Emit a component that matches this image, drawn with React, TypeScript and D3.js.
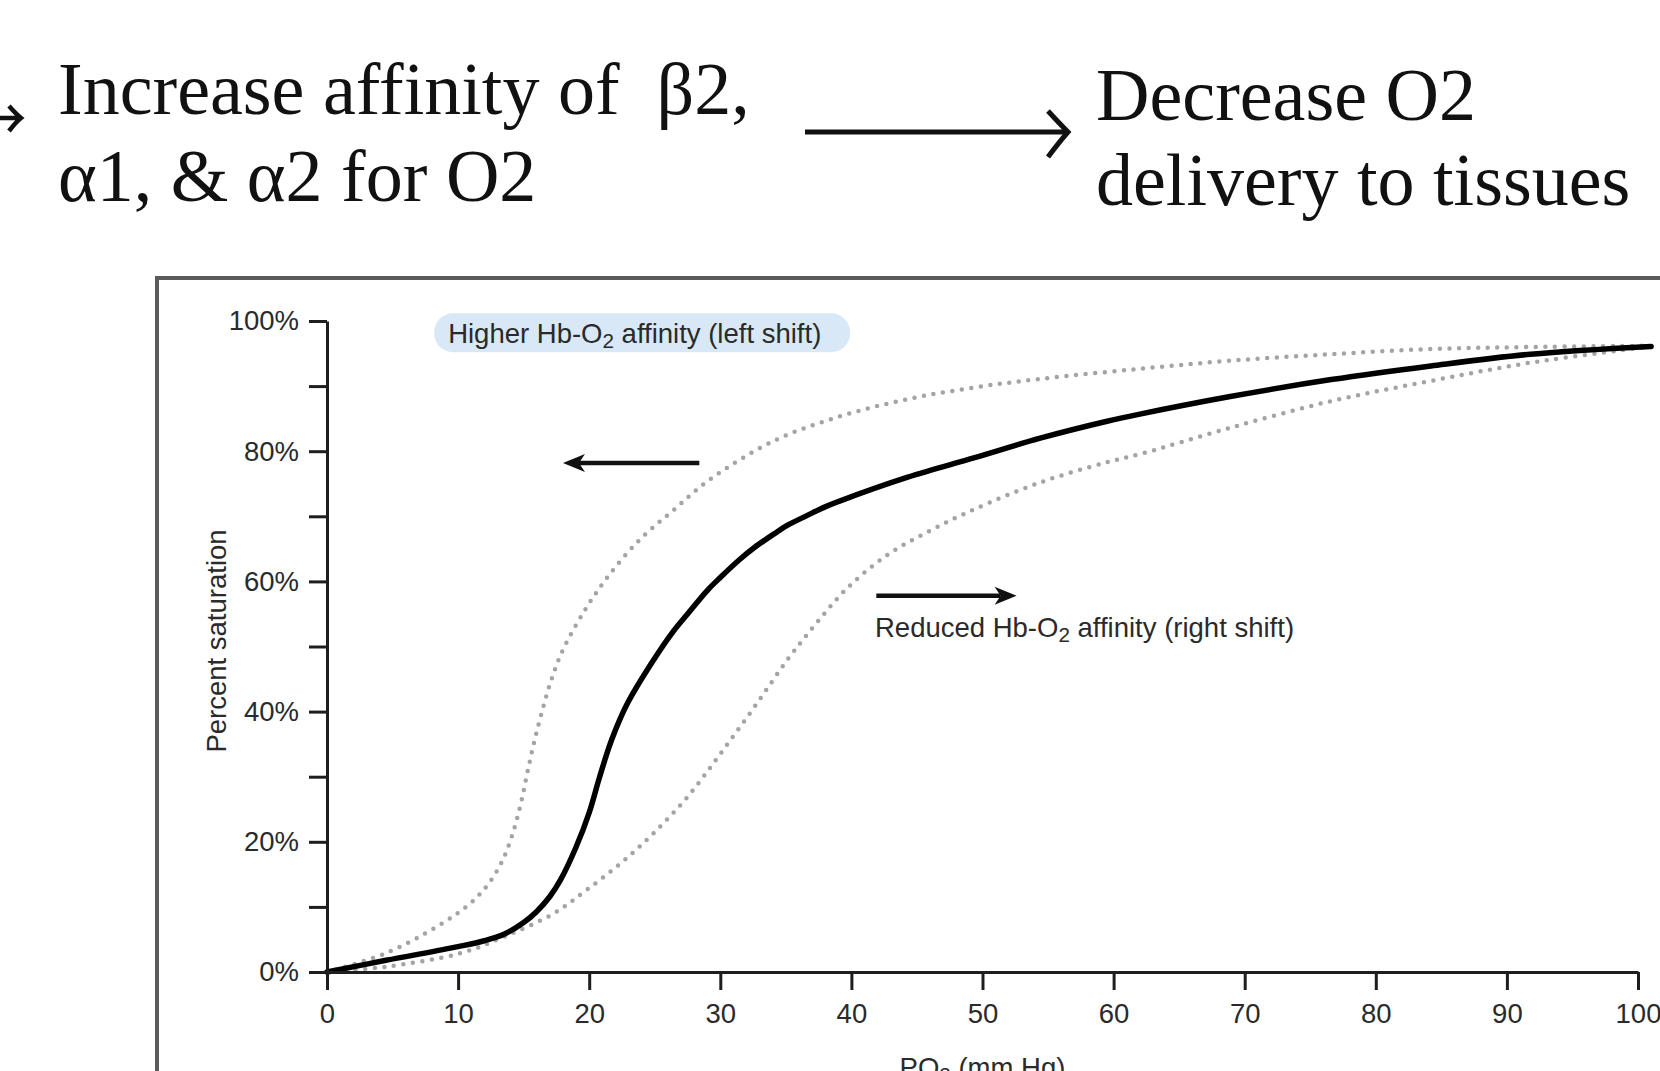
import React, { useEffect, useRef } from 'react';
import * as d3 from 'd3';

const W = 1660;
const H = 1071;

// PO2 (mm Hg) -> percent saturation
const normalCurve: [number, number][] = [
  [0, 0], [4.5, 1.8], [10, 3.9], [12, 4.8], [13.5, 5.8], [15, 7.6], [16, 9.3], [17, 11.6],
  [17.8, 14.1], [19, 19.2], [20, 24.5], [20.8, 30], [21.7, 35.6], [22.9, 41.2], [24.9, 47.9],
  [26.4, 52.3], [27.5, 55], [29, 58.6], [30, 60.6], [31.5, 63.4], [32.6, 65.2], [34.1, 67.3],
  [35.1, 68.6], [36.6, 70.1], [37.6, 71.1], [39.2, 72.4], [44.3, 76], [49.4, 79],
  [54.4, 82], [59.5, 84.6], [62, 85.7], [68.9, 88.4], [76.6, 91], [84.2, 93.1],
  [91.8, 94.9], [101, 96.1],
];

const leftShiftCurve: [number, number][] = [
  [0, 0], [4.5, 2.9], [8.4, 7], [10.9, 10.5], [12.3, 13.5], [13.4, 17.2], [14.2, 21.5],
  [14.8, 26], [15.3, 30.8], [15.8, 35.3], [16.4, 40], [17.1, 44.8], [18, 49.5], [19.8, 56],
  [21.6, 61.2], [23.9, 66.5], [26.4, 70.9], [29.1, 75.5], [34.1, 81.6], [39.2, 85.4],
  [44.3, 88], [49.4, 89.8], [54.4, 91.1], [61.7, 92.6], [68.9, 93.9], [76.6, 94.9],
  [84.2, 95.7], [91.8, 96], [100.7, 96.2],
];

const rightShiftCurve: [number, number][] = [
  [0, 0], [4.5, 0.8], [10.2, 2.9], [13.5, 5.4], [17.3, 9], [19.8, 12.6], [22.4, 16.7],
  [24.9, 21.3], [27.5, 26.9], [30, 33.5], [32.6, 40.7], [35.1, 47.9], [37.3, 53.5],
  [39.7, 59], [42.7, 64], [46, 67.8], [49.4, 71.1], [54.4, 75.2], [59.5, 78.3],
  [62.1, 79.6], [68.9, 83.6], [76.6, 87.7], [84.2, 90.8], [91.8, 93.6], [100.7, 96],
];

const xTickValues = [0, 10, 20, 30, 40, 50, 60, 70, 80, 90, 100];
const yTickValues = [0, 10, 20, 30, 40, 50, 60, 70, 80, 90, 100];
const yLabelStep = 20;

const headerLeft = ['Increase affinity of  \u03b22,', '\u03b11, & \u03b12 for O2'];
const headerRight = ['Decrease O2', 'delivery to tissues'];

const SANS = '"Liberation Sans", Arial, sans-serif';
const SERIF = '"Liberation Serif", "Times New Roman", serif';
const TXT = '#2a2a2a';
const FS = 27.5;

export default function App() {
  const xAxisRef = useRef<SVGGElement>(null);
  const yAxisRef = useRef<SVGGElement>(null);

  const x = d3.scaleLinear().domain([0, 100]).range([327, 1638]);
  const y = d3.scaleLinear().domain([0, 100]).range([972, 321]);

  const line = d3.line<[number, number]>()
    .x(d => x(d[0]))
    .y(d => y(d[1]))
    .curve(d3.curveCatmullRom.alpha(0.5));

  useEffect(() => {
    const style = (g: any) => {
      g.attr('font-family', null).attr('font-size', null);
      g.select('.domain').attr('stroke', '#1e1e1e').attr('stroke-width', 3);
      g.selectAll('.tick line').attr('stroke', '#1e1e1e').attr('stroke-width', 3);
      g.selectAll('.tick text')
        .attr('fill', TXT)
        .style('font-family', SANS)
        .style('font-size', FS + 'px');
    };

    const xg = d3.select(xAxisRef.current);
    xg.selectAll('*').remove();
    xg.call(d3.axisBottom(x).tickValues(xTickValues).tickSize(18).tickSizeOuter(0).tickPadding(13) as any);
    style(xg);

    const yg = d3.select(yAxisRef.current);
    yg.selectAll('*').remove();
    yg.call(
      d3.axisLeft(y)
        .tickValues(yTickValues)
        .tickSize(18)
        .tickSizeOuter(0)
        .tickPadding(10)
        .tickFormat((d: any) => (d % yLabelStep === 0 ? `${d}%` : '')) as any
    );
    style(yg);
  }, []);

  // horizontal arrow with a small filled head at x2
  const arrow = (x1: number, x2: number, yy: number) => {
    const dir = x2 > x1 ? 1 : -1;
    const tip = x2;
    const back = tip - dir * 22;
    const notch = tip - dir * 16;
    return (
      <g>
        <line x1={x1} x2={notch} y1={yy} y2={yy} stroke="#111" strokeWidth={4.5} />
        <path d={`M${tip},${yy} L${back},${yy - 9} L${notch},${yy} L${back},${yy + 9} Z`} fill="#111" />
      </g>
    );
  };

  return (
    <div style={{ position: 'absolute', left: 0, top: 0, width: W, height: H, overflow: 'hidden', background: '#fff' }}>
      <svg width={W} height={H} style={{ display: 'block' }}>
        <rect width={W} height={H} fill="#fff" />

        {/* header */}
        <g fontFamily={SERIF} fontSize={74} fill="#111" style={{ whiteSpace: 'pre' }}>
          <path d="M-8,118 H19 M9,106 Q16,114 21,118 Q16,122 9,131" stroke="#111" strokeWidth={4.5} fill="none" />
          <text x={58} y={114} xmlSpace="preserve">{headerLeft[0]}</text>
          <text x={58} y={201}>{headerLeft[1]}</text>
          <path d="M805,132 H1066" stroke="#111" strokeWidth={5} />
          <path d="M1048,111 Q1060,124 1068,132 Q1060,141 1048,157" stroke="#111" strokeWidth={5} fill="none" />
          <text x={1096} y={120}>{headerRight[0]}</text>
          <text x={1096} y={205}>{headerRight[1]}</text>
        </g>

        {/* frame */}
        <rect x={157} y={278} width={1600} height={900} fill="none" stroke="#5b5b5b" strokeWidth={4} />

        {/* annotation pill */}
        <rect x={x(8.17)} y={y(101.2)} width={x(39.9) - x(8.17)} height={y(95.2) - y(101.2)}
          rx={19} fill="#d9e8f7" />
        <text x={x(9.24)} y={y(96.6)} fontFamily={SANS} fontSize={FS} fill={TXT}>
          Higher Hb-O<tspan fontSize={FS * 0.75} dy={5}>2</tspan><tspan dy={-5}> affinity (left shift)</tspan>
        </text>

        {arrow(x(28.4), x(18.0), y(78.2))}
        {arrow(x(41.9), x(52.6), y(57.8))}

        <text x={x(41.8)} y={y(51.5)} fontFamily={SANS} fontSize={FS} fill={TXT}>
          Reduced Hb-O<tspan fontSize={FS * 0.75} dy={5}>2</tspan><tspan dy={-5}> affinity (right shift)</tspan>
        </text>

        {/* curves */}
        <path d={line(leftShiftCurve) || ''} fill="none" stroke="#a4a4a4" strokeWidth={4.5}
          strokeDasharray="0 9.6" strokeLinecap="round" />
        <path d={line(rightShiftCurve) || ''} fill="none" stroke="#a4a4a4" strokeWidth={4.5}
          strokeDasharray="0 9.6" strokeLinecap="round" />
        <path d={line(normalCurve) || ''} fill="none" stroke="#000" strokeWidth={5.5} strokeLinecap="round" />

        {/* axes */}
        <g ref={xAxisRef} transform={`translate(0,${y(0)})`} />
        <g ref={yAxisRef} transform={`translate(${x(0)},0)`} />

        <text transform={`translate(226,641) rotate(-90)`} textAnchor="middle"
          fontFamily={SANS} fontSize={FS} fill={TXT}>Percent saturation</text>

        <text x={x(50)} y={1077} textAnchor="middle" fontFamily={SANS} fontSize={FS} fill={TXT}>
          PO<tspan fontSize={FS * 0.75} dy={5}>2</tspan><tspan dy={-5}> (mm Hg)</tspan>
        </text>
      </svg>
    </div>
  );
}
